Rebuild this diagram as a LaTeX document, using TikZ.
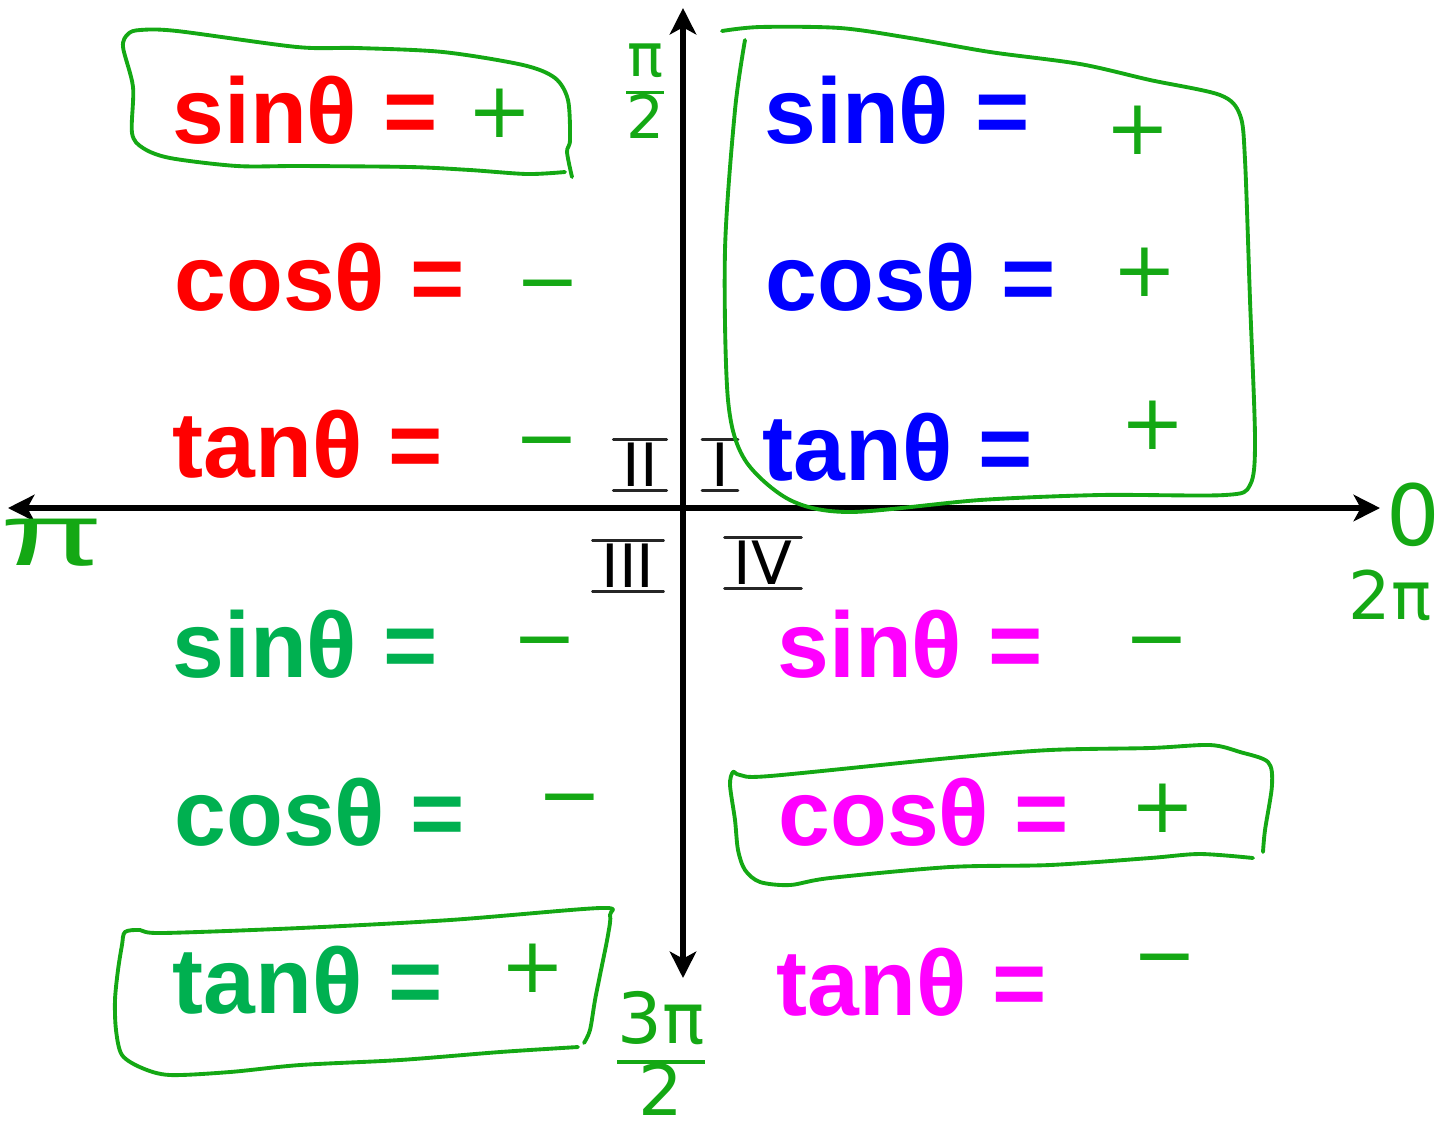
\documentclass[tikz,border=0pt]{standalone}
\usepackage{fontspec}
\setmainfont{Liberation Sans}
\newfontfamily\handfont{DejaVu Sans}
\usetikzlibrary{arrows.meta}
\definecolor{qred}{RGB}{255,0,0}
\definecolor{qblue}{RGB}{0,0,255}
\definecolor{qgreen}{RGB}{0,176,80}
\definecolor{qpink}{RGB}{255,0,255}
\definecolor{ink}{RGB}{20,168,20}
\newcommand{\handfrac}[2]{{\renewcommand{\arraystretch}{0.8}\setlength{\arrayrulewidth}{2pt}\begin{tabular}{@{}c@{}}#1\\\hline #2\end{tabular}}}

\begin{document}
\begin{tikzpicture}[x=0.02cm, y=-0.02cm, every node/.style={inner sep=0pt},
	eq/.style={anchor=base west, font=\fontsize{53}{53}\selectfont\bfseries},
	sgn/.style={ink, font=\handfont\fontsize{44}{44}\selectfont},
	hand/.style={ink, line width=2.2pt, line cap=round, line join=round},
	axis/.style={line width=3.4pt, {Stealth[length=15pt,width=15pt,inset=4pt]}-{Stealth[length=15pt,width=15pt,inset=4pt]}},
	numeral/.style={font=\handfont\fontsize{34}{34}\selectfont, inner xsep=5pt, inner ysep=2pt},
	numbar/.style={line width=1.6pt, black!85, line cap=round}]
	\useasboundingbox (0,0) rectangle (1443,1134);
	\coordinate (west) at (8,508);
	\coordinate (east) at (1380,508);
	\coordinate (north) at (683,8);
	\coordinate (south) at (683,978);
	\draw[axis] (west) -- (east);
	\draw[axis] (north) -- (south);
	\node[eq, qred] (sin2) at (172,143) {sinθ =};
	\node[eq, qred] (cos2) at (174,310) {cosθ =};
	\node[eq, qred] (tan2) at (172,477) {tanθ =};
	\node[eq, qblue] (sin1) at (764,143) {sinθ =};
	\node[eq, qblue] (cos1) at (765,310) {cosθ =};
	\node[eq, qblue] (tan1) at (762,480) {tanθ =};
	\node[eq, qgreen] (sin3) at (172,677) {sinθ =};
	\node[eq, qgreen] (cos3) at (174,845) {cosθ =};
	\node[eq, qgreen] (tan3) at (172,1013) {tanθ =};
	\node[eq, qpink] (sin4) at (777,677) {sinθ =};
	\node[eq, qpink] (cos4) at (778,845) {cosθ =};
	\node[eq, qpink] (tan4) at (776,1015) {tanθ =};
	\node[sgn] (sin2v) at (500,113) {+};
	\node[sgn] (cos2v) at (548,283) {\vphantom{+}−};
	\node[sgn] (tan2v) at (547,440) {\vphantom{+}−};
	\node[sgn] (sin1v) at (1138,130) {+};
	\node[sgn] (cos1v) at (1145,272) {+};
	\node[sgn] (tan1v) at (1153,425) {+};
	\node[sgn] (sin3v) at (545,640) {\vphantom{+}−};
	\node[sgn] (cos3v) at (570,797) {\vphantom{+}−};
	\node[sgn] (tan3v) at (533,968) {+};
	\node[sgn] (sin4v) at (1157,640) {\vphantom{+}−};
	\node[sgn] (cos4v) at (1163,808) {+};
	\node[sgn] (tan4v) at (1165,957) {\vphantom{+}−};
	\node[numeral] (q1) at (720,465) {I};
	\node[numeral] (q2) at (640,465) {II};
	\node[numeral] (q3) at (628,566) {III};
	\node[numeral] (q4) at (763,563) {IV};
	\foreach \q in {q1,q2,q3,q4} {
		\draw[numbar] (\q.north west) -- (\q.north east);
		\draw[numbar] (\q.south west) -- (\q.south east);
	}
	\node[ink, font=\handfont\fontsize{34}{34}\selectfont] (half) at (645,98) {\handfrac{π}{2}};
	\node[ink, font=\handfont\fontsize{40}{40}\selectfont] (threehalf) at (661,1062) {\handfrac{3π}{2}};
	\node[ink, font=\fontsize{50}{50}\selectfont] (pi) at (52,543) {\scalebox{1.7}[1]{π}};
	\node[ink, font=\handfont\fontsize{48}{48}\selectfont] (zero) at (1413,515) {0};
	\node[ink, font=\handfont\fontsize{38}{38}\selectfont] (twopi) at (1390,595) {2π};
	\draw[hand] plot[smooth, tension=0.5] coordinates {(565,172) (527,174) (470,170) (410,167) (300,166) (237,166) (170,158) (143,148) (132,133) (133,87) (123,47) (128,34) (140,30) (177,31) (297,47) (357,48) (443,52) (523,65) (555,78) (568,100) (570,140) (567,152) (572,177)};
	\draw[hand] plot[smooth, tension=0.5] coordinates {(722,31) (760,27) (840,28) (910,38) (990,52) (1080,64) (1150,80) (1220,95) (1240,115) (1245,160) (1250,300) (1255,440) (1250,485) (1225,495) (1100,495) (980,500) (850,512) (790,500) (745,460) (728,400) (725,250) (735,110) (745,40)};
	\draw[hand] plot[smooth, tension=0.5] coordinates {(1253,858) (1200,854) (1150,858) (1050,865) (950,867) (830,878) (790,885) (760,882) (745,870) (738,850) (735,820) (730,785) (733,772) (740,775) (770,776) (950,758) (1050,750) (1150,748) (1210,745) (1240,752) (1268,762) (1272,785) (1265,830) (1263,852)};
	\draw[hand] plot[smooth, tension=0.5] coordinates {(578,1047) (500,1052) (400,1060) (300,1065) (230,1072) (170,1075) (142,1068) (122,1055) (116,1030) (115,1000) (118,970) (122,945) (125,932) (140,930) (162,933) (300,928) (450,920) (600,908) (610,915) (608,935) (600,975) (595,1000) (590,1030) (584,1043)};
\end{tikzpicture}
\end{document}
